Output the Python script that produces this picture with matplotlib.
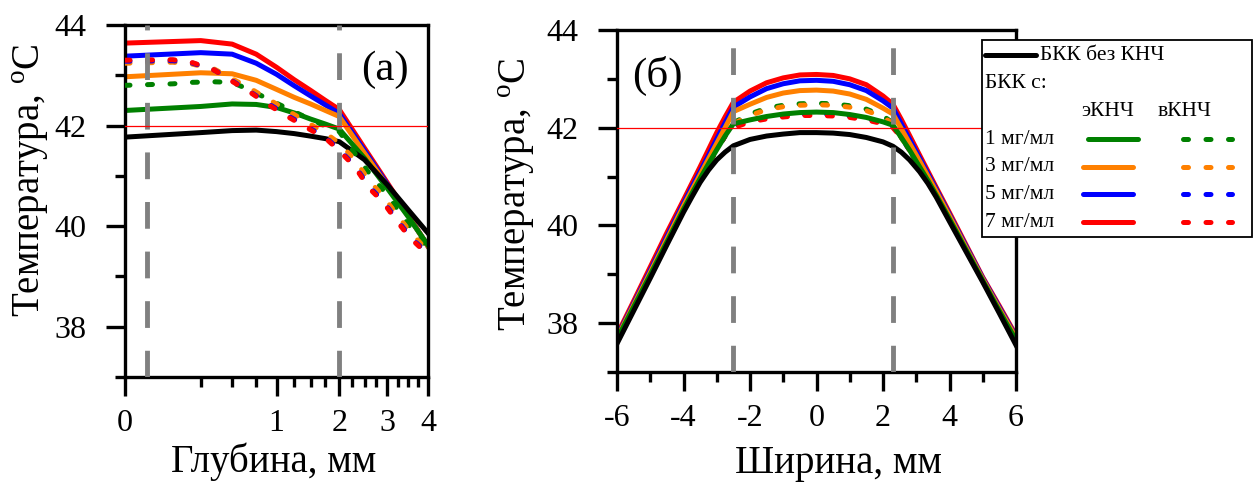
import numpy as np
import matplotlib
matplotlib.use('Agg')
import matplotlib.pyplot as plt
from matplotlib.lines import Line2D
from matplotlib.patches import Rectangle
from matplotlib.ticker import FixedLocator

plt.rcParams['font.family'] = ['Liberation Serif', 'DejaVu Serif']
plt.rcParams['mathtext.fontset'] = 'custom'
plt.rcParams['mathtext.rm'] = 'Liberation Serif'
plt.rcParams['axes.unicode_minus'] = False

# ---- data: (a) depth profile ----
depth = [0, 0.25, 0.5, 0.75, 1, 1.25, 1.5, 1.75, 2, 2.5, 3, 3.5, 4]
a_red = [43.64, 43.69, 43.62, 43.42, 43.16, 42.91, 42.70, 42.50, 42.32, 41.55, 40.86, 40.22, 39.60]
a_blue = [43.38, 43.45, 43.42, 43.24, 43.02, 42.79, 42.59, 42.41, 42.24, 41.50, 40.83, 40.20, 39.60]
a_orange = [42.97, 43.05, 43.03, 42.90, 42.72, 42.56, 42.43, 42.30, 42.18, 41.45, 40.80, 40.20, 39.60]
a_green = [42.30, 42.38, 42.43, 42.42, 42.36, 42.25, 42.13, 42.03, 41.93, 41.35, 40.75, 40.18, 39.62]
a_black = [41.77, 41.86, 41.90, 41.91, 41.88, 41.84, 41.79, 41.74, 41.68, 41.32, 40.82, 40.32, 39.86]

depth_v = [0, 0.1, 0.2, 0.35, 0.5, 0.7, 0.9, 1.15, 1.45, 1.75, 2, 2.3, 2.6, 2.9, 3.2, 3.55, 4]
a_red_v = [43.30, 43.31, 43.25, 43.10, 42.88, 42.64, 42.41, 42.18, 41.95, 41.75, 41.50, 41.18, 40.75, 40.48, 40.12, 39.76, 39.43]
a_blue_v = [43.28, 43.29, 43.24, 43.10, 42.89, 42.65, 42.43, 42.20, 41.97, 41.77, 41.52, 41.20, 40.78, 40.50, 40.15, 39.78, 39.45]
a_orange_v = [43.24, 43.26, 43.22, 43.12, 42.93, 42.72, 42.52, 42.30, 42.06, 41.85, 41.65, 41.32, 40.90, 40.60, 40.25, 39.88, 39.50]
a_green_v = [42.80, 42.83, 42.86, 42.87, 42.86, 42.69, 42.52, 42.34, 42.15, 41.99, 41.88, 41.45, 41.05, 40.72, 40.38, 39.98, 39.55]

# ---- data: (б) width profile ----
width = [-6, -5.5, -5, -4.5, -4, -3.75, -3.5, -3.25, -3, -2.75, -2.5, -2, -1.5, -1, -0.5, 0,
         0.5, 1, 1.5, 2, 2.3, 2.55, 2.8, 3.1, 3.35, 3.6, 4, 4.5, 5, 5.5, 6]
b_red = [37.76, 38.45, 39.15, 39.85, 40.52, 40.86, 41.20, 41.55, 41.90, 42.22, 42.52, 42.75, 42.92, 43.02, 43.08, 43.09,
         43.07, 43.00, 42.88, 42.65, 42.48, 42.17, 41.84, 41.44, 41.11, 40.78, 40.26, 39.60, 38.94, 38.35, 37.75]
b_blue = [37.72, 38.40, 39.08, 39.77, 40.45, 40.78, 41.10, 41.43, 41.77, 42.10, 42.42, 42.63, 42.80, 42.90, 42.96, 42.97,
          42.95, 42.88, 42.76, 42.55, 42.40, 42.08, 41.76, 41.38, 41.06, 40.74, 40.22, 39.57, 38.92, 38.32, 37.72]
b_orange = [37.70, 38.37, 39.04, 39.72, 40.40, 40.72, 41.04, 41.36, 41.68, 42.00, 42.33, 42.48, 42.62, 42.71, 42.76, 42.77,
            42.75, 42.69, 42.58, 42.40, 42.28, 41.98, 41.68, 41.32, 41.01, 40.70, 40.19, 39.54, 38.90, 38.29, 37.70]
b_green = [37.67, 38.33, 38.99, 39.66, 40.33, 40.65, 40.96, 41.26, 41.55, 41.83, 42.08, 42.16, 42.23, 42.28, 42.31, 42.32,
           42.31, 42.27, 42.21, 42.12, 42.05, 41.80, 41.54, 41.20, 40.92, 40.62, 40.13, 39.50, 38.87, 38.25, 37.65]
b_black = [37.58, 38.25, 38.92, 39.60, 40.27, 40.58, 40.88, 41.13, 41.34, 41.50, 41.63, 41.76, 41.83, 41.87, 41.90, 41.90,
           41.89, 41.86, 41.80, 41.71, 41.62, 41.50, 41.34, 41.10, 40.86, 40.58, 40.08, 39.46, 38.84, 38.20, 37.55]

b_green_v = [37.67, 38.33, 38.99, 39.66, 40.33, 40.65, 40.96, 41.26, 41.55, 41.83, 42.10, 42.28, 42.40, 42.46, 42.49, 42.50,
             42.49, 42.45, 42.38, 42.24, 42.10, 41.80, 41.54, 41.20, 40.92, 40.62, 40.13, 39.50, 38.87, 38.25, 37.65]
b_orange_v = [37.67, 38.33, 38.99, 39.66, 40.33, 40.65, 40.96, 41.26, 41.55, 41.83, 42.08, 42.25, 42.37, 42.43, 42.46, 42.47,
              42.46, 42.42, 42.35, 42.22, 42.08, 41.80, 41.54, 41.20, 40.92, 40.62, 40.13, 39.50, 38.87, 38.25, 37.65]
b_blue_v = [37.67, 38.33, 38.99, 39.66, 40.33, 40.65, 40.96, 41.26, 41.55, 41.83, 42.02, 42.14, 42.21, 42.25, 42.28, 42.28,
            42.27, 42.24, 42.19, 42.11, 42.02, 41.80, 41.54, 41.20, 40.92, 40.62, 40.13, 39.50, 38.87, 38.25, 37.65]
b_red_v = [37.67, 38.33, 38.99, 39.66, 40.33, 40.65, 40.96, 41.26, 41.55, 41.83, 42.00, 42.12, 42.18, 42.22, 42.25, 42.25,
           42.24, 42.21, 42.16, 42.08, 42.00, 41.80, 41.54, 41.20, 40.92, 40.62, 40.13, 39.50, 38.87, 38.25, 37.65]

conc_labels = ['1 мг/мл', '3 мг/мл', '5 мг/мл', '7 мг/мл']
a_bounds = [0.021, 2.0]
b_bounds = [-2.5, 2.3]
threshold = 42

COL = {'green': '#008000', 'orange': '#ff8000', 'blue': '#0000ff', 'red': '#ff0000'}
GRAY = '#808080'
LW = 3.6
DOT = (0, (1.0, 3.5))
GDASH = (0, (5.5, 4.7))

W, H = 1253, 484
fig = plt.figure(figsize=(W / 100, H / 100), dpi=100)


def fx(x):
    return x / W


def fy(y):
    return 1 - y / H


ax1 = fig.add_axes([fx(125), fy(377), (428 - 125) / W, (377 - 25) / H])
ax2 = fig.add_axes([fx(617), fy(372), (1016 - 617) / W, (372 - 30) / H])

# ---- panel (a) ----
ax1.set_xscale('function', functions=(lambda x: np.sqrt(np.clip(x, 0, None)), lambda x: x ** 2))
for ys, c in [(a_red, 'red'), (a_blue, 'blue'), (a_orange, 'orange'), (a_green, 'green')]:
    ax1.plot(depth, ys, color=COL[c], lw=LW, zorder=2)
ax1.plot(depth, a_black, color='black', lw=LW, zorder=2.5)
for ys, c in [(a_green_v, 'green'), (a_orange_v, 'orange'), (a_blue_v, 'blue'), (a_red_v, 'red')]:
    ax1.plot(depth_v, ys, color=COL[c], lw=LW, ls=DOT, dash_capstyle='round', zorder=3)
for b in a_bounds:
    ax1.axvline(b, color=GRAY, lw=3.5, ls=GDASH, zorder=4)
ax1.axhline(threshold, color='red', lw=0.9, zorder=5)
ax1.set_xlim(0, 4)
ax1.xaxis.set_major_locator(FixedLocator([0, 1, 2, 3, 4]))
ax1.xaxis.set_minor_locator(FixedLocator([v for v in np.arange(0.25, 4, 0.25) if v % 1]))
ax1.set_xticklabels(['0', '1', '2', '3', '4'])
ax1.text(0.858, 0.872, '(a)', transform=ax1.transAxes, fontsize=31, ha='center', va='center')
ax1.set_xlabel('Глубина, мм', fontsize=28)
ax1.xaxis.set_label_coords(0.49, -0.185)

# ---- panel (б) ----
for ys, c in [(b_green_v, 'green'), (b_orange_v, 'orange'), (b_blue_v, 'blue'), (b_red_v, 'red')]:
    ax2.plot(width, ys, color=COL[c], lw=LW, ls=DOT, dash_capstyle='round', zorder=2)
for ys, c in [(b_red, 'red'), (b_blue, 'blue'), (b_orange, 'orange'), (b_green, 'green')]:
    ax2.plot(width, ys, color=COL[c], lw=LW, zorder=2.5)
ax2.plot(width, b_black, color='black', lw=LW, zorder=2.6)
for b in b_bounds:
    ax2.axvline(b, color=GRAY, lw=3.5, ls=GDASH, zorder=4)
ax2.axhline(threshold, color='red', lw=0.9, zorder=5)
ax2.set_xlim(-6, 6)
ax2.xaxis.set_major_locator(FixedLocator(np.arange(-6, 7, 2)))
ax2.xaxis.set_minor_locator(FixedLocator(np.arange(-5, 6, 2)))
ax2.text(0.10, 0.865, '(б)', transform=ax2.transAxes, fontsize=31, ha='center', va='center')
ax2.set_xlabel('Ширина, мм', fontsize=28)
ax2.xaxis.set_label_coords(0.555, -0.212)

for ax in (ax1, ax2):
    ax.set_ylim(37, 44)
    ax.yaxis.set_major_locator(FixedLocator([38, 40, 42, 44]))
    ax.yaxis.set_minor_locator(FixedLocator([37, 39, 41, 43]))
    ax.set_ylabel('Температура, $^{\\rm o}$C', fontsize=28)
    for s in ax.spines.values():
        s.set_linewidth(2.4)
    ax.tick_params(which='major', direction='out', length=14, width=2.4, labelsize=23)
    ax.tick_params(which='minor', direction='out', length=7.5, width=2.4)
    ax.tick_params(axis='x', which='major', pad=9)
    ax.tick_params(axis='y', which='major', pad=14)
ax1.yaxis.set_label_coords(-0.245, 0.56)
ax2.yaxis.set_label_coords(-0.20, 0.52)

# ---- custom legend (figure pixels) ----
tf = fig.transFigure
fig.patches.append(Rectangle((fx(982), fy(237)), fx(1252) - fx(982), fy(40) - fy(237),
                             transform=tf, facecolor='white', edgecolor='black', lw=1.3, zorder=10))


def hline(x0, x1, y, color, ls='-'):
    fig.lines.append(Line2D([fx(x0), fx(x1)], [fy(y), fy(y)], transform=tf, color=color, lw=LW,
                            ls=ls, solid_capstyle='round', dash_capstyle='round', zorder=11))


LFS = 15.5
hline(985, 1036, 55, 'black')
fig.text(fx(1040), fy(55), 'БКК без КНЧ', fontsize=LFS, ha='left', va='center', zorder=11)
fig.text(fx(985), fy(84), 'БКК с:', fontsize=LFS, ha='left', va='center', zorder=11)
fig.text(fx(1108), fy(112), 'эКНЧ', fontsize=LFS, ha='center', va='center', zorder=11)
fig.text(fx(1185), fy(112), 'вКНЧ', fontsize=LFS, ha='center', va='center', zorder=11)
for i, (lab, c) in enumerate(zip(conc_labels, ['green', 'orange', 'blue', 'red'])):
    y = 139 + i * 27.7
    fig.text(fx(985), fy(y), lab, fontsize=LFS, ha='left', va='center', zorder=11)
    off = 5 if i == 0 else 0
    hline(1083 + off, 1133 + off, y, COL[c])
    hline(1183, 1232, y, COL[c], ls=DOT)

fig.savefig('out.png', dpi=100)
